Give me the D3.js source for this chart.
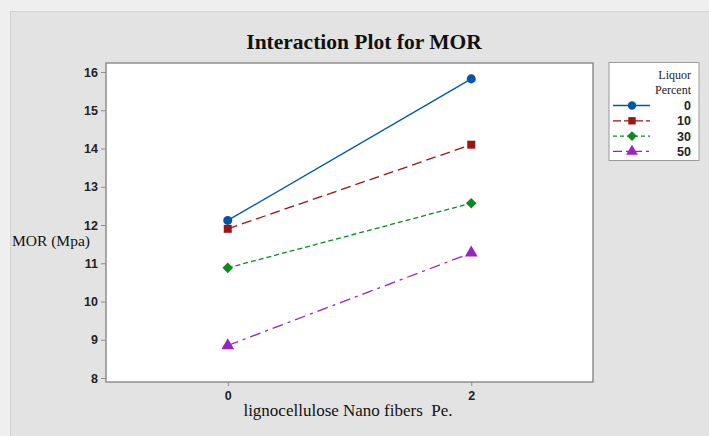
<!DOCTYPE html>
<html><head><meta charset="utf-8">
<script src="https://cdn.jsdelivr.net/npm/d3@7"></script>
<style>html,body{margin:0;padding:0;background:#efefef;}svg{display:block;}</style>
</head><body>
<svg id="c" width="709" height="436"></svg>
<script>
const xValues = [0, 2];
const seriesNames = ["0", "10", "30", "50"];
const series0 = [12.12, 15.82];
const series10 = [11.9, 14.1];
const series30 = [10.88, 12.57];
const series50 = [8.85, 11.27];
const yTicks = [8, 9, 10, 11, 12, 13, 14, 15, 16];
const xTicks = [0, 2];

const colors = ["#0056a8", "#9c1414", "#0b8a1f", "#9b22c0"];
const dashes = [null, "10,5", "5,3", "11,5,3,5"];
const shapes = [d3.symbolCircle, d3.symbolSquare, d3.symbolSquare, d3.symbolTriangle];
const rot = [0, 0, 45, 0];
const sizes = [64, 64, 56, 70];
const allSeries = [series0, series10, series30, series50];

const svg = d3.select("#c");
svg.append("rect").attr("x", 10.5).attr("y", 11.5).attr("width", 720).attr("height", 440)
  .attr("fill", "#e3e3e3").attr("stroke", "#d2d2d2");

const L = 106, R = 593, T = 63, B = 382;
const x = d3.scaleLinear().domain([-1, 3]).range([L, R]);
const y = d3.scaleLinear().domain([8, 16]).range([378, 72]);

svg.append("rect").attr("x", L).attr("y", T).attr("width", R - L).attr("height", B - T)
  .attr("fill", "#fff").attr("stroke", "#8e8e8e").attr("stroke-width", 1.5);

const ya = svg.append("g").attr("transform", `translate(${L},0)`)
  .call(d3.axisLeft(y).tickValues(yTicks).tickSize(5).tickPadding(3).tickFormat(d3.format("d")));
ya.select(".domain").remove();
ya.selectAll("line").attr("stroke", "#8e8e8e");
ya.selectAll("text").attr("font-family", "Liberation Sans, Arial, sans-serif").attr("font-size", 12.5)
  .attr("font-weight", "bold").attr("fill", "#222");

const xa = svg.append("g").attr("transform", `translate(0,${B})`)
  .call(d3.axisBottom(x).tickValues(xTicks).tickSize(4).tickPadding(5).tickFormat(d3.format("d")));
xa.select(".domain").remove();
xa.selectAll("line").attr("stroke", "#8e8e8e");
xa.selectAll("text").attr("font-family", "Liberation Sans, Arial, sans-serif").attr("font-size", 12.5)
  .attr("font-weight", "bold").attr("fill", "#222");

svg.append("text").attr("x", 364).attr("y", 49).attr("text-anchor", "middle")
  .attr("font-family", "Liberation Serif, Times New Roman, serif").attr("font-weight", "bold")
  .attr("font-size", 21.5).attr("fill", "#111").text("Interaction Plot for MOR");

svg.append("text").attr("x", 12).attr("y", 246)
  .attr("font-family", "Liberation Serif, Times New Roman, serif")
  .attr("font-size", 15.5).attr("fill", "#111").text("MOR (Mpa)");

svg.append("text").attr("x", 348).attr("y", 416).attr("text-anchor", "middle")
  .attr("font-family", "Liberation Serif, Times New Roman, serif").attr("xml:space", "preserve")
  .attr("font-size", 17).attr("fill", "#111").text("lignocellulose Nano fibers  Pe.");

const line = d3.line().x((d, i) => x(xValues[i])).y(d => y(d));
allSeries.forEach((s, k) => {
  svg.append("path").datum(s).attr("d", line).attr("fill", "none")
    .attr("stroke", colors[k]).attr("stroke-width", 1.3)
    .attr("stroke-dasharray", dashes[k]);
  svg.selectAll(null).data(s).enter().append("path")
    .attr("d", d3.symbol().type(shapes[k]).size(sizes[k]))
    .attr("transform", (d, i) => `translate(${x(xValues[i])},${y(d)}) rotate(${rot[k]})`)
    .attr("fill", colors[k]);
});

const lg = svg.append("g");
lg.append("rect").attr("x", 609).attr("y", 62.5).attr("width", 90).attr("height", 98)
  .attr("fill", "#fff").attr("stroke", "#9a9a9a");
lg.append("text").attr("x", 691).attr("y", 79).attr("text-anchor", "end")
  .attr("font-family", "Liberation Serif, Times New Roman, serif").attr("font-size", 12)
  .attr("fill", "#222").text("Liquor");
lg.append("text").attr("x", 691).attr("y", 94).attr("text-anchor", "end")
  .attr("font-family", "Liberation Serif, Times New Roman, serif").attr("font-size", 12)
  .attr("fill", "#222").text("Percent");
seriesNames.forEach((n, k) => {
  const yy = 105.5 + k * 15.3;
  lg.append("line").attr("x1", 613).attr("x2", 650).attr("y1", yy).attr("y2", yy)
    .attr("stroke", colors[k]).attr("stroke-width", 1.3).attr("stroke-dasharray", k === 0 ? null : (k === 1 ? "8,3" : (k === 2 ? "4,3" : "9,4,3,4")));
  lg.append("path").attr("d", d3.symbol().type(shapes[k]).size(sizes[k] * 0.85))
    .attr("transform", `translate(632,${yy}) rotate(${rot[k]})`).attr("fill", colors[k]);
  lg.append("text").attr("x", 691).attr("y", yy + 4.5).attr("text-anchor", "end")
    .attr("font-family", "Liberation Sans, Arial, sans-serif").attr("font-size", 12.5)
    .attr("font-weight", "bold").attr("fill", "#222").text(n);
});
</script>
</body></html>
